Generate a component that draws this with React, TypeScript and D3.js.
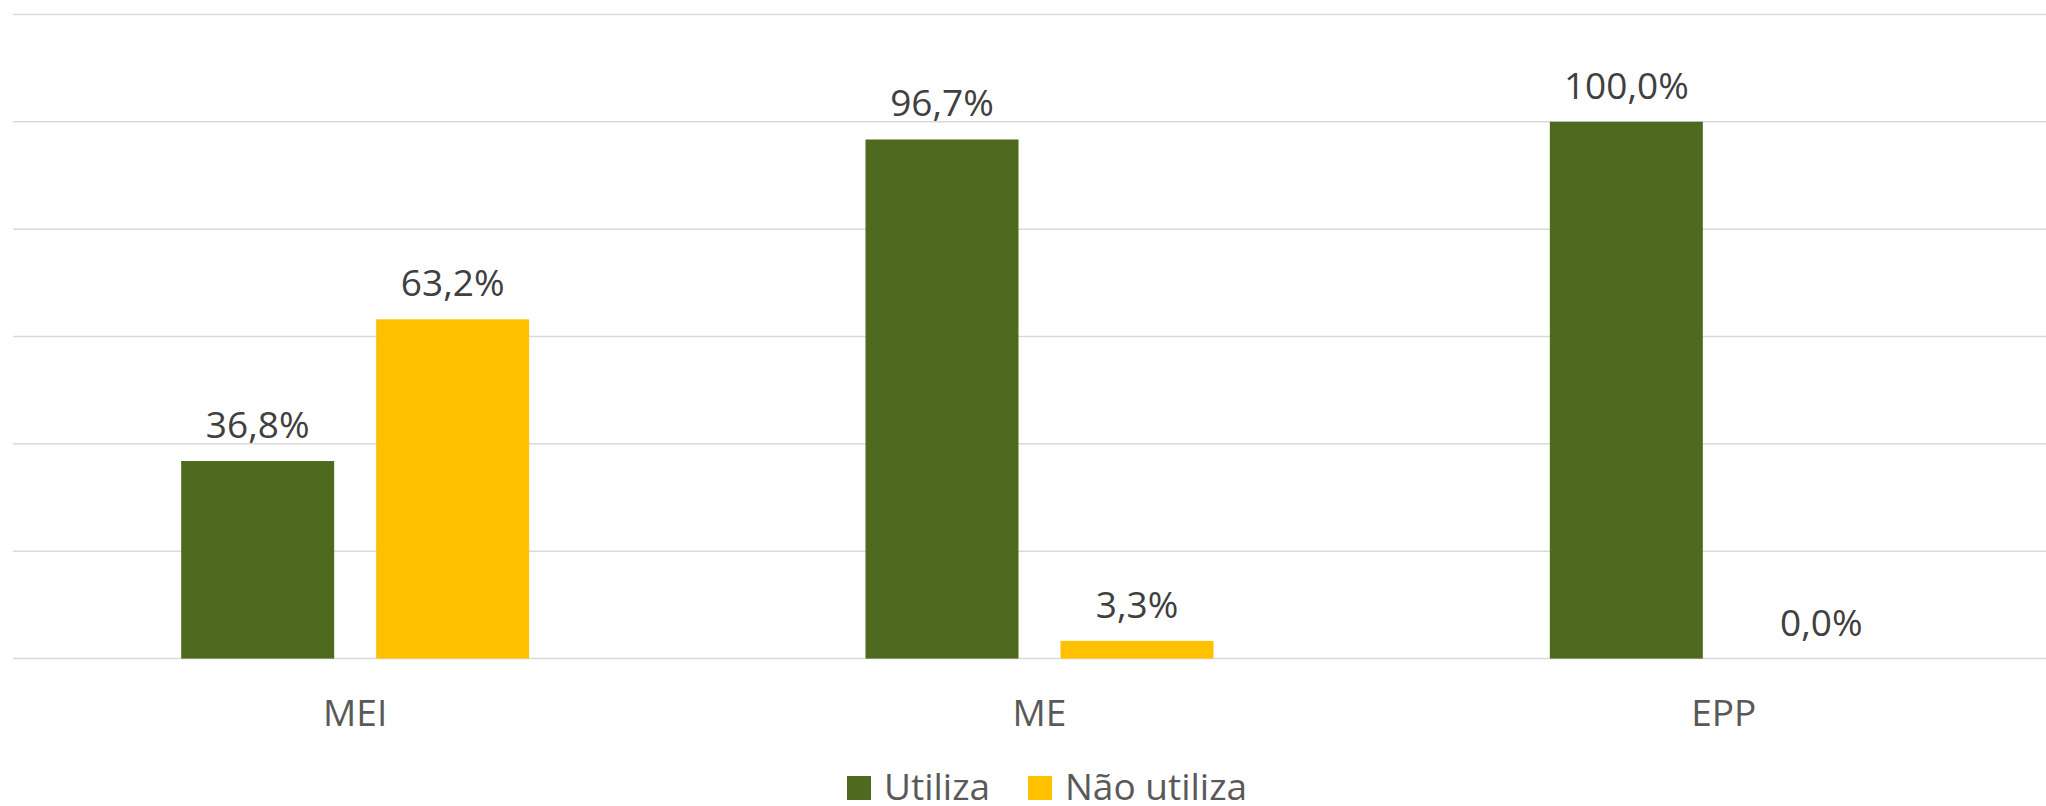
import * as d3 from 'd3';

const categories = ['MEI', 'ME', 'EPP'];
const seriesNames = ['Utiliza', 'Não utiliza'];
const utiliza = [36.8, 96.7, 100.0];
const naoUtiliza = [63.2, 3.3, 0.0];
const yTicks = [0, 20, 40, 60, 80, 100, 120];

const seriesColors = ['#4F6A1F', '#FFC000'];

const W = 2046;
const H = 806;
const FONT = '"Open Sans", "DejaVu Sans", sans-serif';

function fmt(v: number): string {
    return v.toFixed(1).replace('.', ',') + '%';
}

export default function App() {
    const plotLeft = 13;
    const plotRight = 2066; // plot area runs a bit past the image edge
    const plotTop = 14.4;
    const plotBottom = 658.6;

    const x0 = d3.scaleBand<string>()
        .domain(categories)
        .range([plotLeft, plotRight])
        .paddingInner(0)
        .paddingOuter(0);

    const groupW = 348;
    const x1 = d3.scaleBand<string>()
        .domain(seriesNames)
        .range([(x0.bandwidth() - groupW) / 2, (x0.bandwidth() + groupW) / 2])
        .paddingInner(42 / 195)
        .paddingOuter(0);

    const y = d3.scaleLinear()
        .domain([0, 120])
        .range([plotBottom, plotTop]);

    const values = [utiliza, naoUtiliza];

    return (
        <svg
            width={W}
            height={H}
            style={{ position: 'absolute', left: 0, top: 0, background: '#fff' }}
        >
            {/* gridlines */}
            {yTicks.map(t => (
                <line
                    key={t}
                    x1={plotLeft}
                    x2={W}
                    y1={y(t)}
                    y2={y(t)}
                    stroke="#D9D9D9"
                    strokeWidth={1.5}
                />
            ))}

            {/* bars */}
            {categories.map((c, ci) => (
                <g key={c} transform={`translate(${x0(c)},0)`}>
                    {seriesNames.map((s, si) => {
                        const v = values[si][ci];
                        const bx = x1(s) ?? 0;
                        return (
                            <g key={s}>
                                <rect
                                    x={bx}
                                    y={y(v)}
                                    width={x1.bandwidth()}
                                    height={Math.max(0, y(0) - y(v))}
                                    fill={seriesColors[si]}
                                />
                                <text
                                    x={bx + x1.bandwidth() / 2}
                                    y={y(v) - 23}
                                    textAnchor="middle"
                                    fontFamily={FONT}
                                    fontSize={37}
                                    fill="#404040"
                                >
                                    {fmt(v)}
                                </text>
                            </g>
                        );
                    })}
                    <text
                        x={x0.bandwidth() / 2}
                        y={726}
                        textAnchor="middle"
                        fontFamily={FONT}
                        fontSize={37}
                        fill="#595959"
                    >
                        {c}
                    </text>
                </g>
            ))}

            {/* legend */}
            <g>
                <rect x={847} y={776} width={24} height={24} fill={seriesColors[0]} />
                <text x={884} y={800} fontFamily={FONT} fontSize={37} fill="#595959">
                    {seriesNames[0]}
                </text>
                <rect x={1028} y={776} width={24} height={24} fill={seriesColors[1]} />
                <text x={1065} y={800} fontFamily={FONT} fontSize={37} fill="#595959">
                    {seriesNames[1]}
                </text>
            </g>
        </svg>
    );
}
